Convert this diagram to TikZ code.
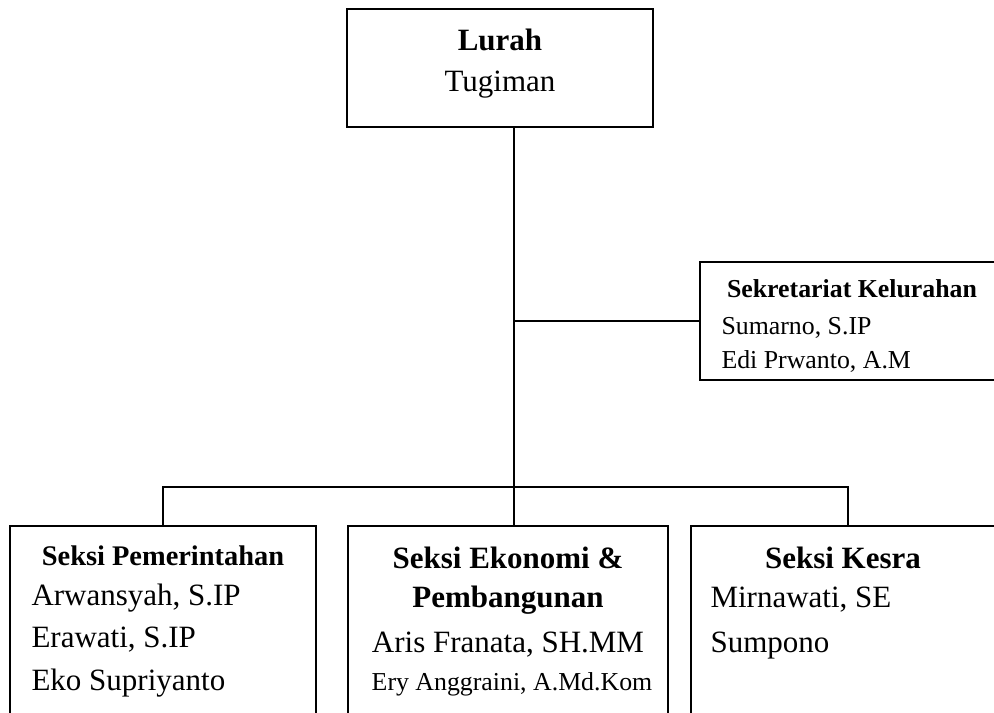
\documentclass[tikz,border=0pt]{standalone}
\usepackage{fontspec}
\setmainfont{Liberation Serif}
\usetikzlibrary{positioning}
\newdimen\pxu \pxu=0.3871pt
\begin{document}
\begin{tikzpicture}[x=0.3871pt, y=-0.3871pt,
	box/.style={draw=black, line width=0.6pt, inner sep=0pt},
	link/.style={draw=black, line width=0.6pt},
	txt/.style={inner sep=0pt, anchor=base, font=\large},
	lft/.style={inner sep=0pt, anchor=base west, font=\large}]

	\useasboundingbox (0,0) rectangle (994,713);
	\clip (0,0) rectangle (994,713);

	\node[box, minimum width=306*\pxu, minimum height=118*\pxu] (lurah) at (500,68) {};
	\node[box, minimum width=310*\pxu, minimum height=118*\pxu] (sekre) at (855,321) {};
	\node[box, minimum width=306*\pxu, minimum height=214*\pxu] (pem) at (163,633) {};
	\node[box, minimum width=320*\pxu, minimum height=214*\pxu] (eko) at (508,633) {};
	\node[box, minimum width=314*\pxu, minimum height=214*\pxu] (kesra) at (848,633) {};

	\coordinate (bus) at (514,487);
	\draw[link] (bus |- lurah.south) -- (bus |- eko.north);
	\draw[link] (bus |- sekre.west) -- (sekre.west);
	\draw[link] (pem.north) |- (bus) -| (kesra.north);

	\node[txt, font=\large\bfseries] (lurahH) at (500,51) {Lurah};
	\node[txt] (lurahA) at (500,92) {Tugiman};

	\node[txt, font=\bfseries] (sekreH) at (852,297) {Sekretariat Kelurahan};
	\node[lft, font=\normalsize] (sekreA) at (721,334) {Sumarno, S.IP};
	\node[lft, font=\normalsize] (sekreB) at (721,368) {Edi Prwanto, A.M};

	\node[txt, font=\fontsize{11}{13}\selectfont\bfseries] (pemH) at (163,565) {Seksi Pemerintahan};
	\node[lft] (pemA) at (31,605) {Arwansyah, S.IP};
	\node[lft] (pemB) at (31,647) {Erawati, S.IP};
	\node[lft] (pemC) at (31,690) {Eko Supriyanto};

	\node[txt, font=\large\bfseries] (ekoH) at (508,568) {Seksi Ekonomi \&};
	\node[txt, font=\large\bfseries] (ekoI) at (508,607) {Pembangunan};
	\node[txt] (ekoA) at (508,652) {Aris Franata, SH.MM};
	\node[txt, font=\normalsize] (ekoB) at (512,690) {Ery Anggraini, A.Md.Kom};

	\node[txt, font=\large\bfseries] (kesraH) at (843,568) {Seksi Kesra};
	\node[lft] (kesraA) at (710,607) {Mirnawati, SE};
	\node[lft] (kesraB) at (710,652) {Sumpono};
\end{tikzpicture}
\end{document}
